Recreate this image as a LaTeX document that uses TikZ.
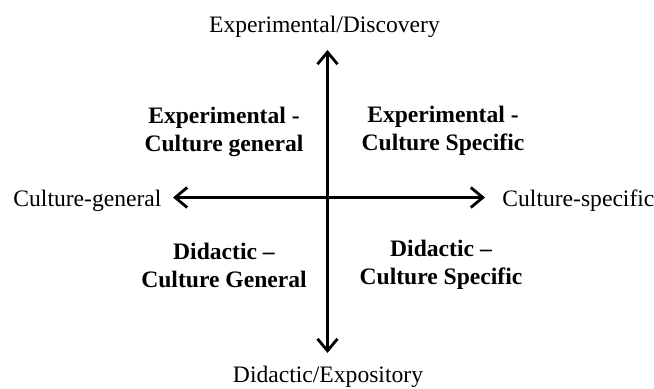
\documentclass[tikz,border=0pt]{standalone}
\usepackage{fontspec}
\setmainfont{Liberation Serif}
\usetikzlibrary{arrows.meta}
\begin{document}
\begin{tikzpicture}[x=0.5pt,y=-0.5pt,
  >={Straight Barb[length=6pt,width=10pt,line width=1.4pt]},
  axis/.style={line width=1.4pt,<->},
  pole/.style={inner sep=0pt,font=\fontsize{11.8}{14}\selectfont},
  quadrant/.style={inner sep=0pt,align=center,font=\fontsize{11.8}{14}\selectfont\bfseries}]
\useasboundingbox (0,0) rectangle (654,389);
% axis end points
\coordinate (top) at (327.5,50);
\coordinate (bottom) at (327.5,353);
\coordinate (left) at (173,197.5);
\coordinate (right) at (485,197.5);
\draw[axis] (bottom) -- (top);
\draw[axis] (left) -- (right);
% pole labels
\node[pole,anchor=base] (ptop) at (324.5,33) {Experimental/Discovery};
\node[pole,anchor=base] (pbottom) at (328,383) {Didactic/Expository};
\node[pole,anchor=base west] (pleft) at (13,207) {Culture-general};
\node[pole,anchor=base west] (pright) at (502,207) {Culture-specific};
% quadrant labels
\node[quadrant] (q1) at (224,132) {Experimental -\\Culture general};
\node[quadrant] (q2) at (443,131) {Experimental -\\Culture Specific};
\node[quadrant] (q3) at (224,265) {Didactic \textendash\\Culture General};
\node[quadrant] (q4) at (441,265) {Didactic \textendash\\Culture Specific};
\end{tikzpicture}
\end{document}
